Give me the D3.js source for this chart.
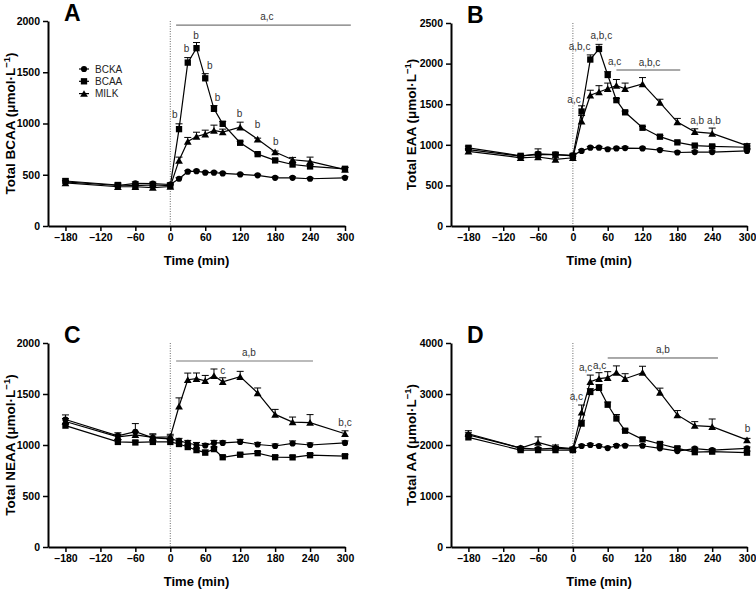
<!DOCTYPE html>
<html>
<head>
<meta charset="utf-8">
<script src="https://cdn.jsdelivr.net/npm/d3@7"></script>
<style>
  body { margin: 0; background: #fff; }
  svg { font-family: "Liberation Sans", Arial, sans-serif; }
</style>
</head>
<body>
<div id="chart"></div>
<script>
const W = 756;
const H = 589;

// sampling times (min)
const times = [-180, -90, -60, -30, 0, 15, 30, 45, 60, 75, 90, 120, 150, 180, 210, 240, 300];
const groups = ["BCKA", "BCAA", "MILK"];
const xTicks = [-180, -120, -60, 0, 60, 120, 180, 240, 300];

// A - total BCAA
const aBCKA = [430, 395, 416, 413, 405, 461, 530, 535, 520, 520, 513, 503, 494, 470, 470, 461, 470];
const aBCAA = [439, 400, 393, 400, 395, 945, 1594, 1735, 1441, 1143, 997, 812, 701, 640, 600, 581, 558];
const aMILK = [420, 383, 383, 375, 385, 640, 825, 873, 896, 932, 916, 964, 847, 721, 646, 630, 550];
const aBCKAerr = [15, 15, 15, 15, 15, 10, 10, 10, 10, 10, 10, 10, 10, 10, 10, 10, 10];
const aBCAAerr = [20, 20, 15, 15, 15, 52, 49, 55, 45, 32, 23, 15, 10, 12, 15, 15, 15];
const aMILKerr = [20, 15, 15, 15, 15, 32, 39, 42, 39, 52, 29, 49, 10, 10, 23, 42, 20];

// B - total EAA
const bBCKA = [940, 860, 890, 880, 870, 925, 965, 965, 945, 955, 960, 955, 935, 905, 910, 910, 925];
const bBCAA = [963, 864, 880, 880, 864, 1410, 2050, 2180, 1860, 1550, 1400, 1210, 1100, 1030, 990, 980, 970];
const bMILK = [920, 840, 850, 820, 840, 1290, 1610, 1650, 1690, 1730, 1690, 1750, 1520, 1280, 1160, 1140, 990];
const bBCKAerr = [15, 15, 60, 20, 15, 15, 15, 15, 15, 15, 15, 15, 15, 15, 15, 15, 15];
const bBCAAerr = [20, 20, 20, 20, 20, 70, 57, 57, 41, 20, 15, 15, 15, 15, 15, 15, 15];
const bMILKerr = [20, 20, 20, 20, 20, 70, 62, 78, 70, 74, 70, 78, 41, 45, 37, 66, 25];

// C - total NEAA
const cBCKA = [1250, 1090, 1130, 1070, 1060, 1040, 1020, 1000, 995, 1020, 1020, 1030, 1005, 990, 1015, 1000, 1020];
const cBCAA = [1190, 1030, 1025, 1030, 1030, 1010, 980, 950, 925, 960, 880, 905, 920, 880, 879, 900, 890];
const cMILK = [1230, 1080, 1100, 1075, 1080, 1380, 1640, 1650, 1630, 1680, 1620, 1670, 1510, 1300, 1225, 1220, 1110];
const cBCKAerr = [45, 30, 80, 40, 30, 25, 25, 25, 20, 25, 20, 25, 20, 20, 25, 20, 20];
const cBCAAerr = [20, 20, 15, 15, 20, 20, 20, 20, 25, 20, 15, 15, 15, 15, 15, 15, 15];
const cMILKerr = [30, 25, 30, 25, 25, 82, 65, 56, 52, 65, 39, 52, 49, 49, 49, 78, 29];

// D - total AA
const dBCKA = [2200, 1940, 1920, 1940, 1920, 1980, 2000, 1980, 1940, 1985, 1985, 1985, 1935, 1880, 1930, 1900, 1935];
const dBCAA = [2150, 1900, 1900, 1900, 1900, 2420, 3040, 3120, 2790, 2520, 2280, 2110, 2020, 1935, 1860, 1870, 1850];
const dMILK = [2220, 1940, 2050, 1960, 1930, 2640, 3240, 3300, 3320, 3420, 3300, 3420, 3030, 2590, 2380, 2360, 2100];
const dBCKAerr = [40, 30, 30, 30, 30, 25, 25, 25, 25, 25, 25, 25, 25, 25, 25, 25, 25];
const dBCAAerr = [40, 30, 30, 30, 30, 65, 65, 65, 52, 78, 30, 30, 30, 30, 30, 30, 30];
const dMILKerr = [60, 30, 110, 40, 30, 144, 131, 118, 118, 131, 98, 124, 85, 85, 78, 150, 30];

// significance letters (time, value, text) and bars (from, to, value)
const aNotes = [[7.5, 1083, "b"], [28, 1727, "b"], [44, 1863, "b"], [68, 1561, "b"], [81, 1258, "b"],
                [119, 1093, "b"], [150, 995, "b"], [181, 820, "b"], [166, 2040, "a,c"]];
const bNotes = [[2, 1564, "a,c"], [11.5, 2208, "a,b,c"], [49, 2344, "a,b,c"], [72, 2023, "a,c"],
                [132, 2016, "a,b,c"], [214, 1302, "a,b"], [243, 1302, "a,b"]];
const cNotes = [[90, 1732, "c"], [135, 1906, "a,b"], [300, 1220, "b,c"]];
const dNotes = [[6, 2960, "a,c"], [22, 3523, "a,c"], [46, 3555, "a,c"], [155, 3863, "a,b"], [301, 2314, "b"]];
const aBar = [10, 310, 1960];
const bBar = [75, 185, 1921];
const cBar = [10, 245, 1824];
const dBar = [60, 250, 3706];

const panels = [
  {letter: "A", label: "BCAA", yMax: 2000, yStep: 500, series: [aBCKA, aBCAA, aMILK], errs: [aBCKAerr, aBCAAerr, aMILKerr],
   notes: aNotes, bar: aBar, left: 48, right: 345, top: 21, bottom: 226, labX: 10, legend: true, barColor: "#555", barW: 1},
  {letter: "B", label: "EAA", yMax: 2500, yStep: 500, series: [bBCKA, bBCAA, bMILK], errs: [bBCKAerr, bBCAAerr, bMILKerr],
   notes: bNotes, bar: bBar, left: 451, right: 747, top: 23, bottom: 226, labX: 411, barColor: "#555", barW: 1},
  {letter: "C", label: "NEAA", yMax: 2000, yStep: 500, series: [cBCKA, cBCAA, cMILK], errs: [cBCKAerr, cBCAAerr, cMILKerr],
   notes: cNotes, bar: cBar, left: 48, right: 345, top: 343, bottom: 547, labX: 10, barColor: "#bbb", barW: 2},
  {letter: "D", label: "AA", yMax: 4000, yStep: 1000, series: [dBCKA, dBCAA, dMILK], errs: [dBCKAerr, dBCAAerr, dMILKerr],
   notes: dNotes, bar: dBar, left: 451, right: 747, top: 343, bottom: 547, labX: 411, barColor: "#555", barW: 1}
];

const symbols = [
  d3.symbol().type(d3.symbolCircle).size(30),
  d3.symbol().type(d3.symbolSquare).size(40),
  d3.symbol().type(d3.symbolTriangle).size(26)
];

const svg = d3.select("#chart")
              .append("svg")
              .attr("width", W)
              .attr("height", H);

panels.forEach(p => drawPanel(p));

function drawPanel(p) {
    const g = svg.append("g");

    const x = d3.scaleLinear().domain([-210, 300]).range([p.left, p.right]);
    const y = d3.scaleLinear().domain([0, p.yMax]).range([p.bottom, p.top]);

    // axes
    const xAxis = d3.axisBottom(x).tickValues(xTicks).tickSize(5).tickSizeOuter(0)
                    .tickFormat(d => d < 0 ? "\u2013" + Math.abs(d) : d);
    const yAxis = d3.axisLeft(y).tickValues(d3.range(0, p.yMax + 1, p.yStep))
                    .tickFormat(d3.format("d"))
                    .tickSize(5).tickSizeOuter(0);

    g.append("g").attr("transform", "translate(0," + p.bottom + ")").call(xAxis);
    g.append("g").attr("transform", "translate(" + p.left + ",0)").call(yAxis);

    g.selectAll(".domain").attr("stroke", "#000").attr("stroke-width", 2);
    g.selectAll(".tick line").attr("stroke", "#000").attr("stroke-width", 1.5);
    g.selectAll(".tick text")
        .attr("font-family", "'Liberation Sans', Arial, sans-serif")
        .attr("font-size", 10.5)
        .attr("font-weight", "bold")
        .attr("fill", "#000");

    // axis titles
    g.append("text")
        .attr("x", (p.left + p.right) / 2)
        .attr("y", p.bottom + 39)
        .attr("text-anchor", "middle")
        .attr("font-size", 13)
        .attr("font-weight", "bold")
        .text("Time (min)");

    const yt = g.append("text")
        .attr("transform", "translate(" + (p.labX + 5) + "," + ((p.top + p.bottom) / 2) + ") rotate(-90)")
        .attr("text-anchor", "middle")
        .attr("font-size", 13.5)
        .attr("font-weight", "bold");
    yt.append("tspan").text("Total " + p.label + " (\u03bcmol\u00b7L");
    yt.append("tspan").attr("dy", -5).attr("font-size", 9.5).text("\u22121");
    yt.append("tspan").attr("dy", 5).text(")");

    // panel letter
    g.append("text")
        .attr("x", p.left + 16)
        .attr("y", p.top)
        .attr("font-size", 23)
        .attr("font-weight", "bold")
        .text(p.letter);

    // dotted line at t = 0
    g.append("line")
        .attr("x1", x(0)).attr("x2", x(0))
        .attr("y1", y(p.yMax)).attr("y2", p.bottom)
        .attr("stroke", "#444")
        .attr("stroke-width", 0.8)
        .attr("stroke-dasharray", "1,1.5");

    // significance bar
    g.append("line")
        .attr("x1", x(p.bar[0])).attr("x2", x(p.bar[1]))
        .attr("y1", y(p.bar[2])).attr("y2", y(p.bar[2]))
        .attr("stroke", p.barColor)
        .attr("stroke-width", p.barW);

    g.selectAll(".note")
        .data(p.notes)
        .enter()
        .append("text")
        .attr("class", "note")
        .attr("x", d => x(d[0]))
        .attr("y", d => y(d[1]))
        .attr("dy", "0.35em")
        .attr("text-anchor", "middle")
        .attr("font-size", 10)
        .attr("fill", "#333")
        .text(d => d[2]);

    const line = d3.line().x((d, i) => x(times[i])).y(d => y(d));

    // series lines
    p.series.forEach(s => {
        g.append("path")
            .datum(s)
            .attr("d", line)
            .attr("fill", "none")
            .attr("stroke", "#000")
            .attr("stroke-width", 1.2);
    });

    // error bars (upper only)
    p.series.forEach((s, k) => {
        const e = p.errs[k];
        const eb = g.append("g");
        eb.selectAll("line.v")
            .data(s)
            .enter()
            .append("line")
            .attr("x1", (d, i) => x(times[i])).attr("x2", (d, i) => x(times[i]))
            .attr("y1", d => y(d)).attr("y2", (d, i) => y(d + e[i]))
            .attr("stroke", "#000").attr("stroke-width", 1);
        eb.selectAll("line.c")
            .data(s)
            .enter()
            .append("line")
            .attr("x1", (d, i) => x(times[i]) - 3.5).attr("x2", (d, i) => x(times[i]) + 3.5)
            .attr("y1", (d, i) => y(d + e[i])).attr("y2", (d, i) => y(d + e[i]))
            .attr("stroke", "#000").attr("stroke-width", 1);
    });

    // markers
    p.series.forEach((s, k) => {
        g.append("g")
            .selectAll("path")
            .data(s)
            .enter()
            .append("path")
            .attr("d", symbols[k])
            .attr("transform", (d, i) => "translate(" + x(times[i]) + "," + (y(d) + (k === 2 ? 1 : 0)) + ")")
            .attr("fill", "#000");
    });

    // legend
    if (p.legend) {
        const lg = g.append("g");
        groups.forEach((name, k) => {
            const ly = 69 + k * 12.3;
            lg.append("line")
                .attr("x1", 79).attr("x2", 89)
                .attr("y1", ly).attr("y2", ly)
                .attr("stroke", "#000").attr("stroke-width", 1.2);
            lg.append("path")
                .attr("d", symbols[k])
                .attr("transform", "translate(84," + (ly + (k === 2 ? 1 : 0)) + ")")
                .attr("fill", "#000");
            lg.append("text")
                .attr("x", 95)
                .attr("y", ly)
                .attr("dy", "0.35em")
                .attr("font-size", 10)
                .attr("fill", "#222")
                .text(name);
        });
    }
}
</script>
</body>
</html>
